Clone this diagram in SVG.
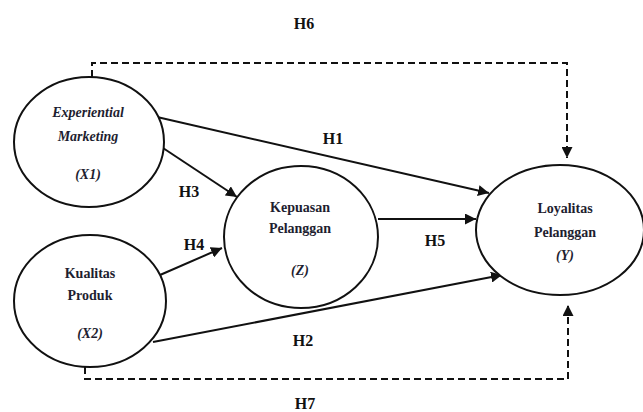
<svg xmlns="http://www.w3.org/2000/svg" width="643" height="412" viewBox="0 0 643 412">
<style>
.node{fill:#fff;stroke:#111;stroke-width:2}
.t{font-family:"Liberation Serif","Times New Roman",serif;font-weight:bold;font-size:14px;fill:#1e1e30;text-anchor:middle;dominant-baseline:central}
.i{font-style:italic}
.lbl{font-family:"Liberation Serif","Times New Roman",serif;font-weight:bold;font-size:16px;fill:#111;text-anchor:middle;dominant-baseline:central}
.c{fill:none;stroke:#111;stroke-width:2}
.d{fill:none;stroke:#111;stroke-width:2;stroke-dasharray:7 4}
</style>
<defs>
<marker id="ah" viewBox="0 0 10 10" refX="10" refY="5" markerWidth="5.5" markerHeight="5.5" orient="auto" markerUnits="strokeWidth">
<path d="M0,0 L10,5 L0,10 z" fill="#111"/>
</marker>
</defs>
<rect width="643" height="412" fill="#fff"/>
<g id="connectors">
<path class="d" d="M92,77 V63 H567 V158" marker-end="url(#ah)"/>
<path class="d" d="M85,367 V379 H568 V305" marker-end="url(#ah)"/>
<line class="c" x1="157" y1="117" x2="489" y2="193" marker-end="url(#ah)"/>
<line class="c" x1="163" y1="148" x2="237" y2="197" marker-end="url(#ah)"/>
<line class="c" x1="160" y1="275" x2="222" y2="248" marker-end="url(#ah)"/>
<line class="c" x1="378" y1="219" x2="476" y2="219" marker-end="url(#ah)"/>
<line class="c" x1="153" y1="342" x2="502" y2="275" marker-end="url(#ah)"/>
<text class="lbl" x="304" y="23">H6</text>
<text class="lbl" x="333" y="138">H1</text>
<text class="lbl" x="189" y="191">H3</text>
<text class="lbl" x="194" y="244">H4</text>
<text class="lbl" x="435" y="240">H5</text>
<text class="lbl" x="303" y="340">H2</text>
<text class="lbl" x="305" y="403">H7</text>
</g>
<g id="X1">
<ellipse class="node" cx="89" cy="142" rx="75" ry="65"/>
<text class="t i" x="88" y="112">Experiential</text>
<text class="t i" x="88" y="136">Marketing</text>
<text class="t i" x="88" y="174">(X1)</text>
</g>
<g id="X2">
<ellipse class="node" cx="90" cy="301" rx="76" ry="66"/>
<text class="t" x="90" y="273">Kualitas</text>
<text class="t" x="90" y="295">Produk</text>
<text class="t i" x="90" y="333">(X2)</text>
</g>
<g id="Z">
<ellipse class="node" cx="301" cy="237" rx="77" ry="71"/>
<text class="t" x="300" y="207">Kepuasan</text>
<text class="t" x="300" y="228">Pelanggan</text>
<text class="t i" x="300" y="270">(Z)</text>
</g>
<g id="Y">
<ellipse class="node" cx="560" cy="230" rx="84" ry="65"/>
<text class="t" x="565" y="208">Loyalitas</text>
<text class="t" x="565" y="232">Pelanggan</text>
<text class="t i" x="565" y="255">(Y)</text>
</g>
</svg>
